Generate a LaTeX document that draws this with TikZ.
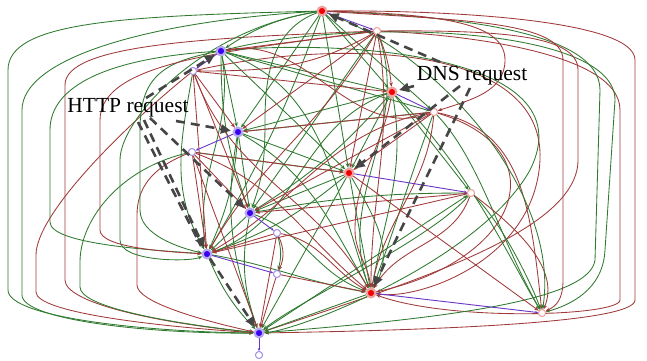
\documentclass[tikz,border=0pt]{standalone}
\usepackage{fontspec}
\setmainfont{Liberation Serif}
\usetikzlibrary{arrows.meta}
\definecolor{gE}{HTML}{2F7A2F}
\definecolor{rE}{HTML}{A03A3A}
\definecolor{pE}{HTML}{6A35C8}
\definecolor{dK}{HTML}{454545}
\definecolor{rF}{HTML}{F00000}
\definecolor{rH}{HTML}{F2A0A0}
\definecolor{bF}{HTML}{3A00F0}
\definecolor{bH}{HTML}{B4A8F0}
\tikzset{
  rn/.style={circle,fill=rF,draw=rH,line width=2pt,inner sep=0pt,minimum size=8.5pt},
  bn/.style={circle,fill=bF,draw=bH,line width=2pt,inner sep=0pt,minimum size=8.5pt},
  wn/.style={circle,fill=white,draw=bH!80!pE,line width=0.9pt,inner sep=0pt,minimum size=7pt},
  wr/.style={circle,fill=white,draw=rH,line width=0.9pt,inner sep=0pt,minimum size=7pt},
  ge/.style={draw=gE,line width=0.85pt,-{Stealth[length=4.5pt,width=3.5pt]}},
  re/.style={draw=rE,line width=0.85pt,-{Stealth[length=4.5pt,width=3.5pt]}},
  pe/.style={draw=pE,line width=0.9pt,-{Stealth[length=3pt,width=2.5pt]}},
  dsh/.style={draw=dK,line width=2.6pt,dash pattern=on 9pt off 6pt,-{Triangle[length=10pt,width=9pt]},shorten >=2pt},
  lbl/.style={font=\fontsize{21.5}{22}\selectfont,inner sep=1pt}
}
\begin{document}
\begin{tikzpicture}[x=1pt,y=-1pt]
\useasboundingbox (0,0) rectangle (647,360);
\fill[white] (0,0) rectangle (647,360);
% node positions
\node[rn] (R1) at (322,11) {};
\node[wr] (W1) at (377,31) {};
\node[bn] (B1) at (221,51) {};
\node[wn] (W2) at (193,71) {};
\node[rn] (R2) at (392,92) {};
\node[wr] (W3) at (434,112) {};
\node[bn] (B2) at (238,132) {};
\node[wn] (W4) at (192,152) {};
\node[rn] (R3) at (349,173) {};
\node[wr] (W8) at (471,193) {};
\node[bn] (B3) at (250,213) {};
\node[wn] (W5) at (277,233) {};
\node[bn] (B4) at (207,254) {};
\node[wn] (W6) at (277,274) {};
\node[rn] (R4) at (371,293) {};
\node[wr] (W9) at (542,313) {};
\node[bn] (B5) at (259,333) {};
\node[wn] (W7) at (259,355) {};

% ---- outer loops, left
\draw[ge] (R1) .. controls (120,16) and (8,22) .. (8,70) -- (8,290) .. controls (8,318) and (150,332) .. (B5);
\draw[ge] (R1) .. controls (140,22) and (22,60) .. (22,110) -- (22,295) .. controls (22,320) and (150,334) .. (B5);
\draw[re] (W1) .. controls (200,38) and (65,45) .. (65,85) -- (65,280) .. controls (65,302) and (150,322) .. (B5);
\draw[ge] (B1) .. controls (110,58) and (50,85) .. (50,130) -- (50,222) .. controls (50,244) and (150,250) .. (B4);
\draw[re] (W2) .. controls (120,130) and (36,215) .. (36,255) -- (36,292) .. controls (36,312) and (150,326) .. (B5);
\draw[ge] (W4) .. controls (120,168) and (80,220) .. (80,262) -- (80,287) .. controls (80,306) and (160,322) .. (B5);
\draw[re] (W4) .. controls (150,168) and (137,190) .. (137,215) -- (137,285) .. controls (137,302) and (200,320) .. (B5);
\draw[ge] (B1) .. controls (160,62) and (140,80) .. (140,130) -- (140,210) .. controls (140,235) and (180,248) .. (B4);
\draw[re] (W1) .. controls (240,50) and (100,60) .. (100,120) -- (100,230) .. controls (100,248) and (170,252) .. (B4);
\draw[ge] (R1) .. controls (200,30) and (120,120) .. (120,160) -- (120,240) .. controls (120,262) and (190,262) .. (B4);
% ---- outer loops, right
\draw[re] (R1) .. controls (450,10) and (635,20) .. (635,60) -- (635,300) .. controls (635,322) and (450,330) .. (B5);
\draw[re] (W1) .. controls (450,34) and (620,50) .. (620,110) -- (620,300) .. controls (620,316) and (450,322) .. (R4);
\draw[ge] (B1) .. controls (350,18) and (615,25) .. (615,100) -- (605,250) .. controls (603,290) and (570,305) .. (W9);
\draw[ge] (R1) .. controls (450,16) and (600,30) .. (600,90) -- (595,260) .. controls (590,300) and (450,318) .. (B5);
\draw[re] (R1) .. controls (450,20) and (563,20) .. (563,60) -- (563,280) .. controls (563,300) and (556,306) .. (W9);
\draw[re] (W1) .. controls (500,30) and (578,35) .. (578,70) -- (578,160) .. controls (578,230) and (420,280) .. (B5);
\draw[re] (R1) .. controls (450,14) and (505,25) .. (505,60) .. controls (505,92) and (470,100) .. (W3);
\draw[ge] (B1) .. controls (330,40) and (590,50) .. (530,170) .. controls (480,260) and (300,330) .. (B5);
\draw[re] (W2) .. controls (330,40) and (545,40) .. (540,160) .. controls (535,260) and (420,300) .. (R4);
\draw[re] (W3) .. controls (520,130) and (530,200) .. (W9);
\draw[ge] (W3) .. controls (480,160) and (500,240) .. (W9);
\draw[ge] (W8) .. controls (500,220) and (530,280) .. (W9);
\draw[re] (W8) .. controls (520,230) and (560,270) .. (W9);
\draw[ge] (W8) .. controls (430,240) and (300,300) .. (B5);
\draw[re] (W3) .. controls (560,150) and (520,260) .. (R4);
\draw[ge] (R2) .. controls (470,170) and (510,260) .. (W9);
\draw[re] (R3) -- (W9);
\draw[ge] (R1) .. controls (450,60) and (560,200) .. (W9);

% ---- inner green
\draw[ge] (R1) to[bend right=12] (B1);
\draw[ge] (R1) -- (R2);
\draw[ge] (R1) -- (R3);
\draw[ge] (R1) -- (B2);
\draw[ge] (R1) to[out=200,in=90] (265,120) to[out=-90,in=70] (B3);
\draw[ge] (R1) -- (W3);
\draw[ge] (R1) to[out=250,in=60] (B4);
\draw[ge] (B1) -- (R2);
\draw[ge] (B1) -- (R3);
\draw[ge] (B1) -- (B2);
\draw[ge] (B1) to[bend right=10] (B3);
\draw[ge] (B1) -- (W3);
\draw[ge] (B1) to[out=-20,in=110] (R4);
\draw[ge] (R2) -- (R3);
\draw[ge] (R2) -- (B2);
\draw[ge] (R2) to[bend left=8] (B3);
\draw[ge] (R2) to[out=-80,in=80] (R4);
\draw[ge] (R2) -- (W8);
\draw[ge] (B2) -- (R3);
\draw[ge] (B2) -- (B3);
\draw[ge] (B2) to[bend left=10] (B4);
\draw[ge] (B2) to[out=-30,in=120] (R4);
\draw[ge] (B2) to[out=-100,in=110] (B5);
\draw[ge] (R3) -- (B3);
\draw[ge] (R3) to[bend left=10] (B4);
\draw[ge] (R3) to[out=-80,in=100] (R4);
\draw[ge] (R3) to[out=-60,in=60] (R4);
\draw[ge] (R3) -- (B5);
\draw[ge] (B3) -- (B4);
\draw[ge] (B3) to[bend right=15] (B5);
\draw[ge] (B3) to[out=-20,in=160] (R4);
\draw[ge] (B4) to[bend right=10] (B5);
\draw[ge] (B4) to[out=-10,in=170] (R4);
\draw[ge] (R4) -- (B5);
\draw[ge] (W5) to[bend left=15] (W6);
\draw[ge] (W1) to[out=-70,in=110] (R4);
\draw[ge] (W1) -- (B3);
\draw[ge] (B1) to[out=-80,in=100] (B4);
\draw[ge] (R2) to[out=200,in=20] (B4);
\draw[ge] (W3) -- (B2);
\draw[ge] (W3) to[out=-110,in=70] (R4);
\draw[ge] (W8) to[out=180,in=10] (B3);
\draw[ge] (B5) -- (W8);
\draw[ge] (W2) to[out=-100,in=120] (B4);
\draw[ge] (W4) -- (R3);

% ---- inner red
\draw[re] (W1) -- (B1);
\draw[re] (W1) to[bend left=8] (R2);
\draw[re] (W1) -- (R3);
\draw[re] (W1) -- (B2);
\draw[re] (W1) to[out=-80,in=90] (R4);
\draw[re] (W1) to[out=-120,in=60] (B4);
\draw[re] (W2) -- (B2);
\draw[re] (W2) -- (B3);
\draw[re] (W2) -- (R2);
\draw[re] (W2) -- (B4);
\draw[re] (W2) to[out=-70,in=120] (R4);
\draw[re] (W3) -- (R3);
\draw[re] (W3) -- (B2);
\draw[re] (W3) -- (B3);
\draw[re] (W3) to[out=-95,in=80] (R4);
\draw[re] (W3) to[out=190,in=30] (B4);
\draw[re] (W4) -- (B3);
\draw[re] (W4) -- (B4);
\draw[re] (W4) -- (R3);
\draw[re] (W4) to[out=-20,in=140] (R4);
\draw[re] (W4) to[out=-70,in=110] (B5);
\draw[re] (W8) -- (B3);
\draw[re] (W8) to[out=-110,in=60] (R4);
\draw[re] (W8) -- (B4);
\draw[re] (W5) -- (B4);
\draw[re] (W5) to[out=-100,in=80] (B5);
\draw[re] (W5) to[out=-10,in=150] (R4);
\draw[re] (W5) to[bend left=25] (W6);
\draw[re] (W6) -- (B5);
\draw[re] (W6) -- (R4);
\draw[re] (W1) to[out=-150,in=0] (W2);
\draw[re] (R2) to[out=-100,in=90] (355,230) to[out=-90,in=95] (R4);
\draw[re] (W3) to[out=200,in=10] (B1);

% ---- purple
\draw[pe] (R1) -- (W1);
\draw[pe] (B1) -- (W2);
\draw[pe] (R2) -- (W3);
\draw[pe] (B2) -- (W4);
\draw[pe] (R3) -- (W8);
\draw[pe] (B3) -- (W5);
\draw[pe] (B4) -- (W6);
\draw[pe] (R4) -- (W9);
\draw[pe] (B5) -- (W7);

% ---- redraw nodes on top
\node[rn] at (R1) {};
\node[wr] at (W1) {};
\node[bn] at (B1) {};
\node[wn] at (W2) {};
\node[rn] at (R2) {};
\node[wr] at (W3) {};
\node[bn] at (B2) {};
\node[wn] at (W4) {};
\node[rn] at (R3) {};
\node[wr] at (W8) {};
\node[bn] at (B3) {};
\node[wn] at (W5) {};
\node[bn] at (B4) {};
\node[wn] at (W6) {};
\node[rn] at (R4) {};
\node[wr] at (W9) {};
\node[bn] at (B5) {};
\node[wn] at (W7) {};

% ---- labels
\node[lbl] (http) at (128,108) {HTTP request};
\node[lbl] (dns) at (472,76) {DNS request};

% ---- dashed request arrows
\coordinate (h1) at (146,98);
\coordinate (h2) at (176,121);
\coordinate (h3) at (150,118);
\coordinate (h4a) at (138,122);
\coordinate (h4b) at (144,120);
\coordinate (h4e) at (201,246);
\draw[dsh] (h1) -- (B1);
\draw[dsh] (h2) -- (B2);
\draw[dsh] (h3) -- (B3);
\draw[draw=dK,line width=2.6pt,dash pattern=on 9pt off 6pt] (h4a) -- (h4e);
\draw[dsh] (h4b) -- (B4);
\draw[dsh] (B4) -- (B5);
\coordinate (d1) at (440,62);
\coordinate (d2) at (414,86);
\coordinate (d3) at (460,86);
\coordinate (d4) at (470,88);
\draw[dsh] (d1) -- (R1);
\draw[dsh] (d2) -- (R2);
\draw[dsh] (d3) -- (R3);
\draw[dsh] (d4) .. controls (440,150) and (400,230) .. (R4);
\end{tikzpicture}
\end{document}
